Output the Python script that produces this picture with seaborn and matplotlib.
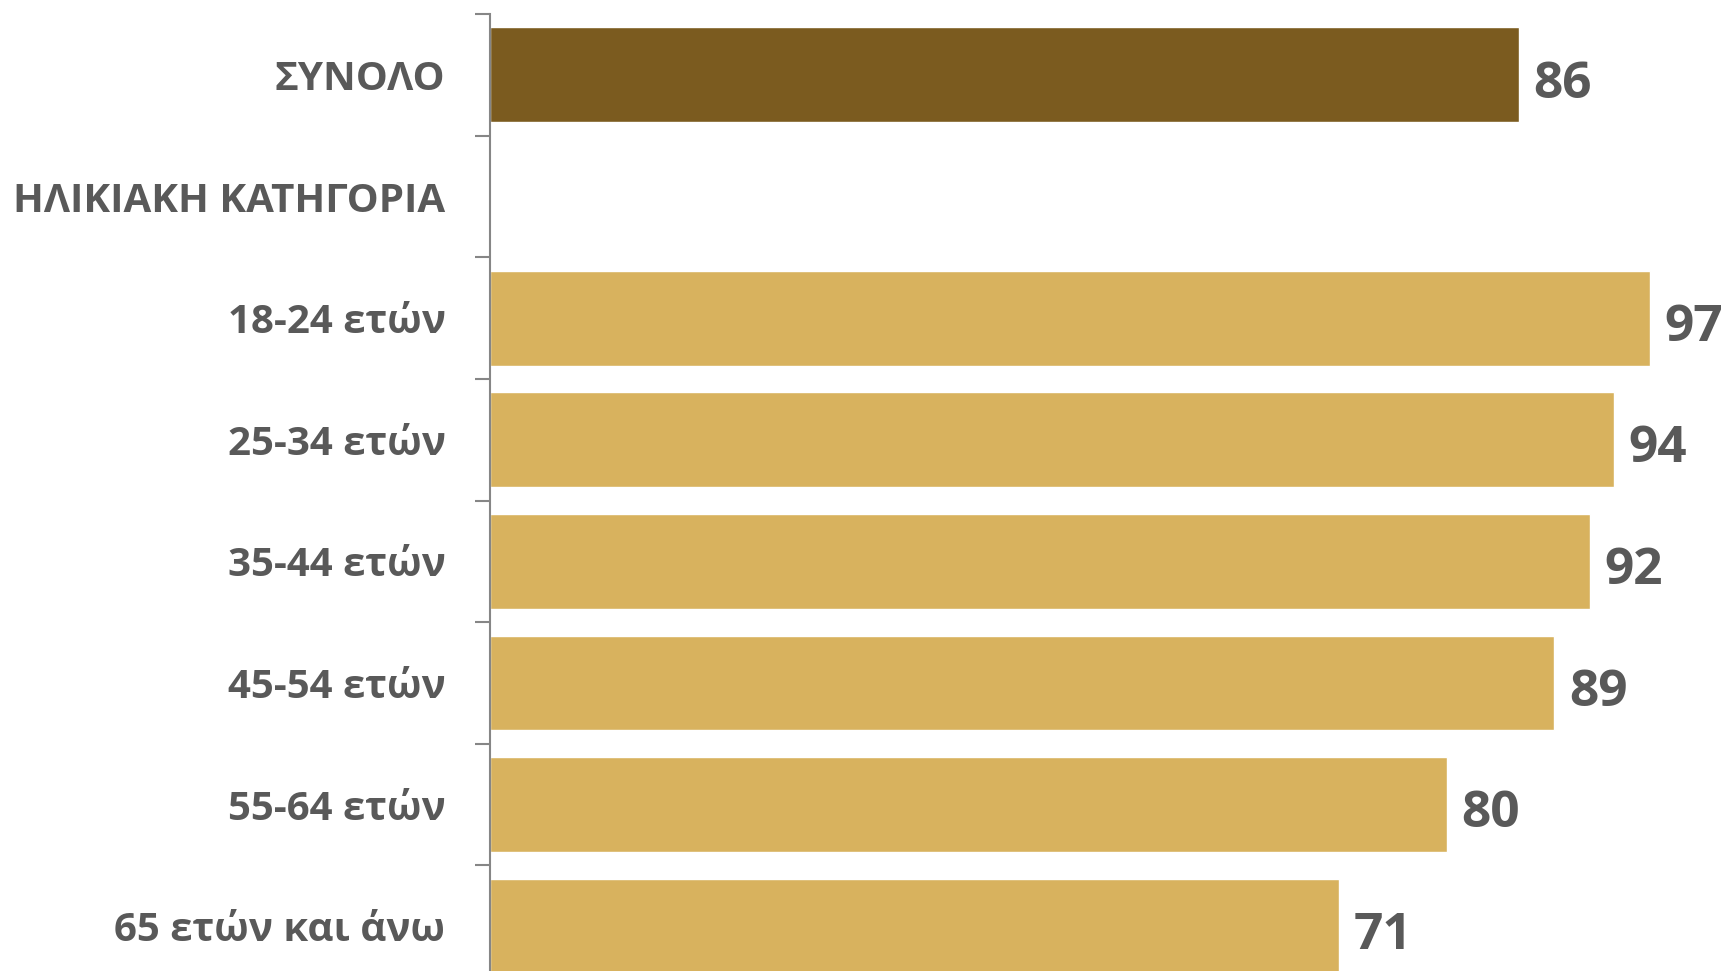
import numpy as np
import pandas as pd
import matplotlib
matplotlib.use("Agg")
import matplotlib.pyplot as plt
import seaborn as sns

# data
categories = ["ΣΥΝΟΛΟ", "ΗΛΙΚΙΑΚΗ ΚΑΤΗΓΟΡΙΑ", "18-24 ετών", "25-34 ετών",
              "35-44 ετών", "45-54 ετών", "55-64 ετών", "65 ετών και άνω"]
values = [86, np.nan, 97, 94, 92, 89, 80, 71]
bar_colors = ["#7B5B1F", "#FFFFFF", "#D8B25E", "#D8B25E",
              "#D8B25E", "#D8B25E", "#D8B25E", "#D8B25E"]

df = pd.DataFrame({"cat": categories, "val": values})

sns.set_theme(style="white")
plt.rcParams["font.family"] = ["Open Sans", "DejaVu Sans"]

text_gray = "#595959"

fig = plt.figure(figsize=(17.28, 9.71), dpi=100)
# axes runs a bit below the bottom edge, like the cropped original
ax = fig.add_axes([490 / 1728, -0.0165, 1196 / 1728, 1.002])

sns.barplot(data=df, x="val", y="cat", hue="cat", order=categories,
            hue_order=categories, palette=bar_colors, width=0.78,
            legend=False, ax=ax, saturation=1, orient="h")

ax.set_xlim(0, 100)
ax.set_ylim(len(categories) - 0.5, -0.5)

# value labels at the end of each bar
for i, v in enumerate(values):
    if np.isnan(v):
        continue
    ax.text(v + 1.2, i + 0.03, f"{v:.0f}", va="center_baseline", ha="left",
            fontsize=37, fontweight="bold", color=text_gray, clip_on=False)

ax.set_xlabel("")
ax.set_ylabel("")
ax.set_xticks([])

# labels at category centres, tick marks at the band edges
ax.set_yticks(range(len(categories)))
ax.set_yticklabels(categories, fontsize=29, fontweight="bold", color=text_gray)
ax.tick_params(axis="y", which="major", length=0, pad=32)
for lbl in ax.get_yticklabels():
    lbl.set_verticalalignment("center_baseline")
ax.set_yticks(np.arange(-0.5, len(categories), 1), minor=True)
ax.tick_params(axis="y", which="minor", length=11, width=1.5, color="#868686", left=True)

for side in ["top", "right", "bottom"]:
    ax.spines[side].set_visible(False)
ax.spines["left"].set_color("#868686")
ax.spines["left"].set_linewidth(1.5)

fig.savefig("out.png", dpi=100)
